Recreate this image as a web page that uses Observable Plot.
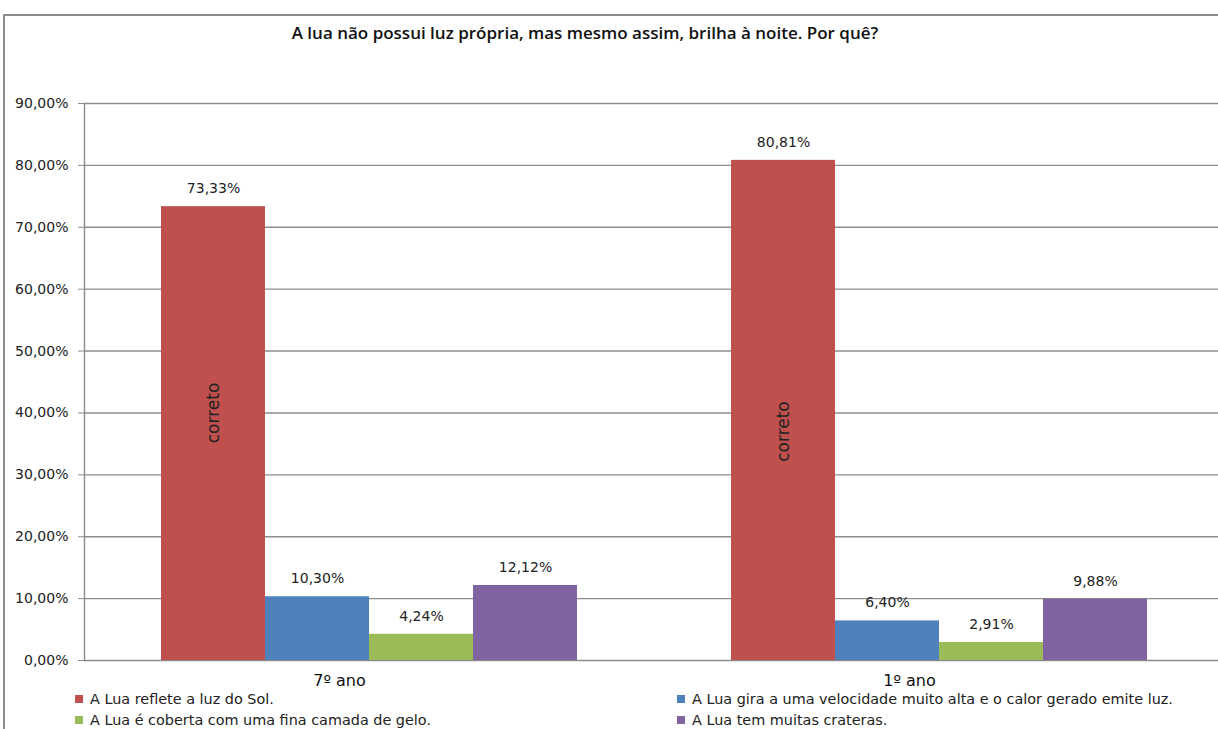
<!DOCTYPE html>
<html><head><meta charset="utf-8">
<script src="https://cdn.jsdelivr.net/npm/d3@7"></script>
<script src="https://cdn.jsdelivr.net/npm/@observablehq/plot@0.6"></script>
<style>
body{margin:0;background:#fff;overflow:hidden}
#wrap{position:relative;width:1218px;height:729px;overflow:hidden;background:#fff}
#border{position:absolute;left:3px;top:14px;width:1400px;height:900px;border-left:2px solid #8c8c8c;border-top:2px solid #8c8c8c}
#title{position:absolute;top:21px;left:0;width:1170px;text-align:center;font:600 17px "Open Sans";color:#111}
#chart{position:absolute;left:0;top:0}
#chart svg{max-width:none}
.leg{position:absolute;font:14.4px "DejaVu Sans";color:#222;white-space:nowrap;line-height:16px}
.sw{display:inline-block;width:8px;height:8px;margin-right:7px;vertical-align:1px}
</style></head>
<body><div id="wrap"><div id="border"></div><div id="title"></div><div id="chart"></div></div>
<script>
const titleText = "A lua não possui luz própria, mas mesmo assim, brilha à noite. Por quê?";
const groups = ["7º ano", "1º ano"];
const series = [
  "A Lua reflete a luz do Sol.",
  "A Lua gira a uma velocidade muito alta e o calor gerado emite luz.",
  "A Lua é coberta com uma fina camada de gelo.",
  "A Lua tem muitas crateras."
];
const values7 = [0.7333, 0.1030, 0.0424, 0.1212];
const values1 = [0.8081, 0.0640, 0.0291, 0.0988];
const colors = ["#C0504D", "#4F81BD", "#9BBB59", "#8064A2"];
const yTicks = [0, 0.1, 0.2, 0.3, 0.4, 0.5, 0.6, 0.7, 0.8, 0.9];
const correctLabel = "correto";
const correctPos = [0.40, 0.37];

const fmt = d => (d * 100).toFixed(2).replace(".", ",") + "%";
const data = groups.flatMap((g, gi) => series.map((s, si) => ({
  group: g, series: s, value: (gi === 0 ? values7 : values1)[si]
})));
const correctData = groups.map((g, gi) => ({group: g, series: series[0], pos: correctPos[gi]}));

document.getElementById("title").textContent = titleText;

const chart = Plot.plot({
  width: 1224, height: 690,
  marginLeft: 84, marginRight: 0, marginTop: 103, marginBottom: 30,
  style: {background: "transparent", fontFamily: "DejaVu Sans", fontSize: "14px", color: "#222", maxWidth: "none"},
  fx: {domain: groups, padding: 0, axis: null},
  x: {domain: series, axis: null, paddingInner: 0, paddingOuter: 0.74},
  y: {domain: [0, 0.9], axis: null},
  color: {domain: series, range: colors},
  marks: [
    Plot.gridY(yTicks, {stroke: "#8c8c8c", strokeOpacity: 1, strokeWidth: 1.4}),
    Plot.barY(data, {fx: "group", x: "series", y: "value", fill: "series"}),
    Plot.text(data, {fx: "group", x: "series", y: "value", text: d => fmt(d.value), dy: -18, fontSize: 14, fill: "#222"}),
    Plot.text(correctData, {fx: "group", x: "series", y: "pos", text: () => correctLabel, rotate: -90, fontSize: 17, fill: "#222"}),
    Plot.axisY({ticks: yTicks, tickFormat: fmt, tickSize: 6, tickPadding: 10, fontSize: 14, stroke: "#8c8c8c", fill: "#222", label: null}),
    Plot.axisFx({anchor: "bottom", tickSize: 0, tickPadding: 14, fontSize: 16, dx: -30, label: null, fill: "#111"}),
    Plot.frame({anchor: "left", facet: "super", stroke: "#8c8c8c", strokeWidth: 1.4})
  ]
});
document.getElementById("chart").appendChild(chart);

const legPos = [[75, 691], [677, 691], [75, 712], [677, 712]];
series.forEach((s, i) => {
  const d = document.createElement("div");
  d.className = "leg";
  d.style.left = legPos[i][0] + "px";
  d.style.top = legPos[i][1] + "px";
  d.innerHTML = `<span class="sw" style="background:${colors[i]}"></span>`;
  d.appendChild(document.createTextNode(s));
  document.getElementById("wrap").appendChild(d);
});
</script></body></html>
